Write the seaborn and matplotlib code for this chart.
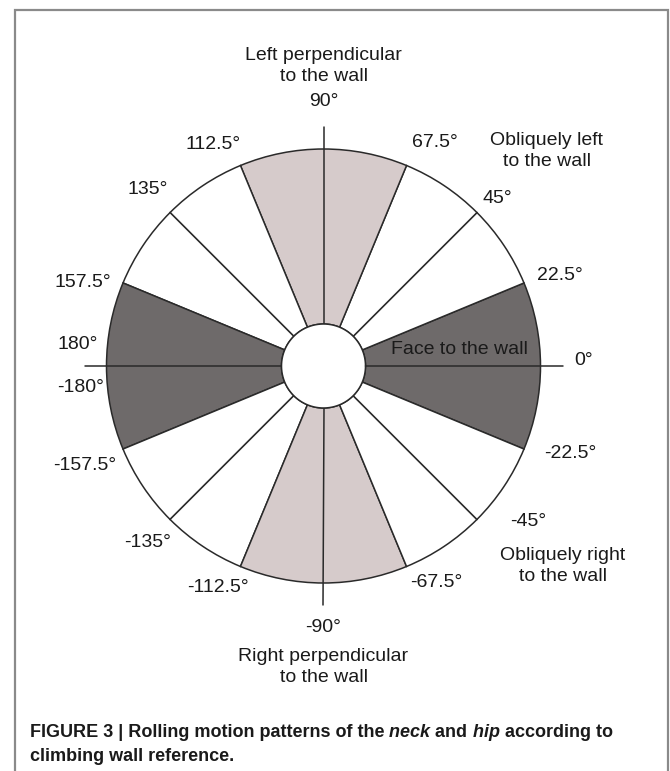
import numpy as np
import matplotlib.pyplot as plt
import seaborn as sns
from matplotlib.patches import Rectangle

sns.set_theme(style="white")
plt.rcParams['font.family'] = ['Liberation Sans', 'DejaVu Sans']

# sector boundaries (degrees, counter-clockwise from "face to the wall")
boundaries = [-22.5, 22.5, 45, 67.5, 112.5, 135, 157.5, 202.5, 225, 247.5, 292.5, 315, 337.5]
sector_kind = ["face", "oblique", "oblique", "perp", "oblique", "oblique",
               "face", "oblique", "oblique", "perp", "oblique", "oblique"]
kind_colors = {"face": "#6e6a6a", "perp": "#d6cbcb", "oblique": "#ffffff"}

# angle labels round the circle
label_angles = [90, 67.5, 112.5, 45, 135, 22.5, 157.5, 0, -22.5, 175, -175,
                -45, -67.5, -90, -112.5, -135, -157.5]
label_texts = ["90°", "67.5°", "112.5°", "45°", "135°", "22.5°", "157.5°", "0°", "-22.5°",
               "180°", "-180°", "-45°", "-67.5°", "-90°", "-112.5°", "-135°", "-157.5°"]
label_nudge = [0, -4, 4, -1, 0, -1.5, 3.5, 1.3, 3, 0, 0, 7.7, 5, 0, -3, 0, 0]
label_radius = [264, 250, 247, 241, 249, 253, 255, 260, 262, 247, 244, 257, 244, 261, 245, 249, 259]

R_OUT = 217
R_IN = 42
R_AXIS = 239
RMAX = 270
W, H = 670, 771
CX, CY = 323.5, 366   # circle centre in pixels from top-left

fig = plt.figure(figsize=(W / 100, H / 100), dpi=100)
ax = fig.add_axes([(CX - RMAX) / W, (H - CY - RMAX) / H, 2 * RMAX / W, 2 * RMAX / H],
                  projection="polar")
ax.set_ylim(0, RMAX)
ax.axis("off")

edge = "#2a2a2a"
starts = np.array(boundaries[:-1])
widths = np.diff(boundaries)
ax.bar(np.deg2rad(starts + widths / 2), R_OUT - R_IN, width=np.deg2rad(widths), bottom=R_IN,
       color=[kind_colors[k] for k in sector_kind], edgecolor=edge, linewidth=1.1)

# white hub
ax.bar(0, R_IN, width=2 * np.pi, bottom=0, color="white", edgecolor="none", zorder=3)
tt = np.linspace(0, 2 * np.pi, 300)
ax.plot(tt, np.full_like(tt, R_IN), color=edge, lw=1.1, zorder=4)

# reference axes through 0/90/180/-90
for a in [0, 90, 180, 270]:
    ax.plot([np.deg2rad(a)] * 2, [R_IN, R_AXIS], color=edge, lw=1.1, zorder=2)

for a, t, n, r in zip(label_angles, label_texts, label_nudge, label_radius):
    ax.text(np.deg2rad(a + n), r, t, ha="center", va="center", fontsize=14, color="#1a1a1a")

ax.text(np.arctan2(366 - 349, 459 - CX), np.hypot(459 - CX, 366 - 349),
        "Face to the wall", ha="center", va="center", fontsize=14, color="#1a1a1a", zorder=5)


def ftext(x, y, s, **kw):
    return fig.text(x / W, 1 - y / H, s, **kw)


ftext(CX, 66, "Left perpendicular\nto the wall", ha="center", va="center", fontsize=14,
      linespacing=1.3, color="#1a1a1a")
ftext(547, 151, "Obliquely left\nto the wall", ha="center", va="center", fontsize=14,
      linespacing=1.3, color="#1a1a1a")
ftext(563, 566, "Obliquely right\nto the wall", ha="center", va="center", fontsize=14,
      linespacing=1.3, color="#1a1a1a")
ftext(CX, 667, "Right perpendicular\nto the wall", ha="center", va="center", fontsize=14,
      linespacing=1.3, color="#1a1a1a")

# caption with italic words
cap = dict(fontsize=13, fontweight="bold", color="#1a1a1a", va="bottom", ha="left")
t1 = ftext(30, 741, "FIGURE 3 | Rolling motion patterns of the", **cap)
t2 = ax.annotate(" neck", xy=(1, 0), xycoords=t1, style="italic", annotation_clip=False, **cap)
t3 = ax.annotate(" and", xy=(1, 0), xycoords=t2, annotation_clip=False, **cap)
t4 = ax.annotate(" hip", xy=(1, 0), xycoords=t3, style="italic", annotation_clip=False, **cap)
t5 = ax.annotate(" according to", xy=(1, 0), xycoords=t4, annotation_clip=False, **cap)
ftext(30, 765, "climbing wall reference.", **cap)

fig.add_artist(Rectangle((15 / W, -0.1), (668 - 15) / W, 1 - 10 / H + 0.1,
                         transform=fig.transFigure, fill=False, edgecolor="#8a8a8a", lw=1.6))

fig.savefig("out.png", dpi=100)
